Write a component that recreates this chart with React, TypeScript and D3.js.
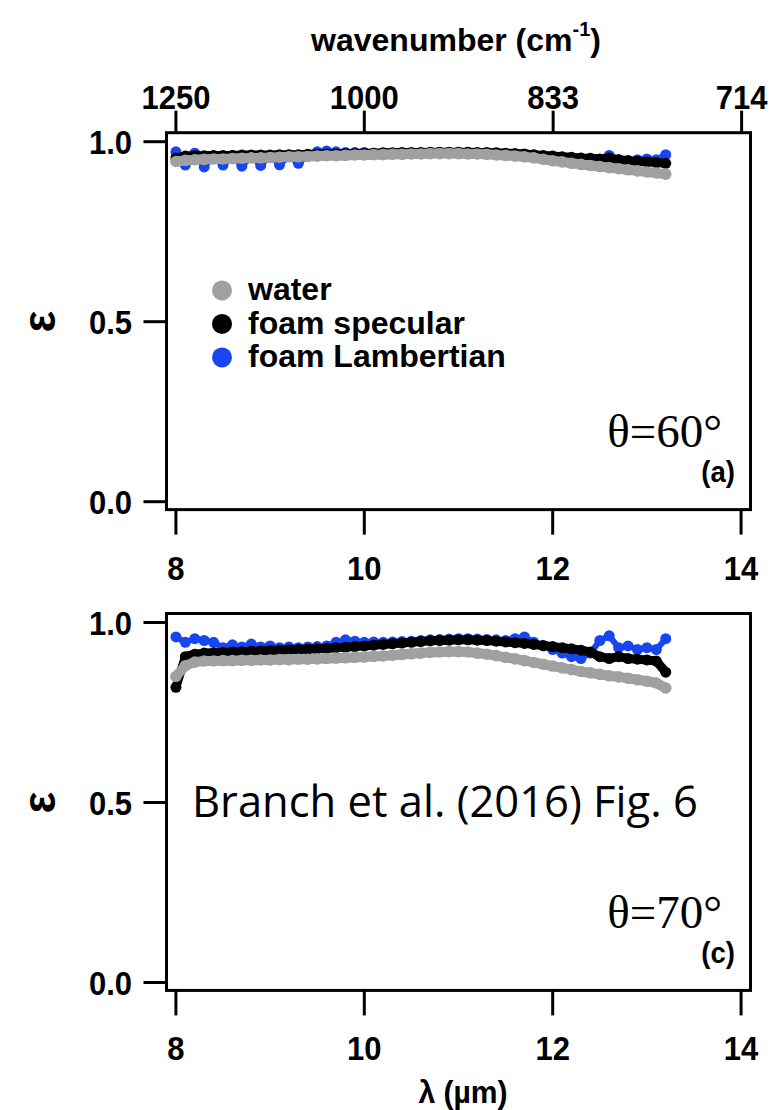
import React from 'react';
import * as d3 from 'd3';

// wavelength grid (µm), shared by every series
const lambdaUm = [
  8.0, 8.1, 8.2, 8.3, 8.4, 8.5, 8.6, 8.7, 8.8, 8.9,
  9.0, 9.1, 9.2, 9.3, 9.4, 9.5, 9.6, 9.7, 9.8, 9.9,
  10.0, 10.1, 10.2, 10.3, 10.4, 10.5, 10.6, 10.7, 10.8, 10.9,
  11.0, 11.1, 11.2, 11.3, 11.4, 11.5, 11.6, 11.7, 11.8, 11.9,
  12.0, 12.1, 12.2, 12.3, 12.4, 12.5, 12.6, 12.7, 12.8, 12.9,
  13.0, 13.1, 13.2,
];

// panel (a), theta = 60
const waterA = [
  0.945, 0.948, 0.95, 0.951, 0.952, 0.952, 0.953, 0.954, 0.955, 0.955,
  0.956, 0.957, 0.958, 0.958, 0.959, 0.96, 0.961, 0.961, 0.962, 0.963,
  0.963, 0.964, 0.964, 0.965, 0.965, 0.966, 0.966, 0.967, 0.967, 0.967,
  0.967, 0.966, 0.966, 0.965, 0.963, 0.962, 0.96, 0.958, 0.955, 0.951,
  0.947, 0.944, 0.94, 0.937, 0.934, 0.931, 0.928, 0.925, 0.922, 0.919,
  0.916, 0.913, 0.91,
];
const specularA = [
  0.955, 0.96, 0.961, 0.961, 0.962, 0.962, 0.962, 0.963, 0.963, 0.963,
  0.963, 0.964, 0.964, 0.964, 0.965, 0.965, 0.966, 0.966, 0.967, 0.967,
  0.968, 0.968, 0.969, 0.969, 0.97, 0.97, 0.97, 0.971, 0.971, 0.971,
  0.971, 0.971, 0.97, 0.97, 0.969, 0.968, 0.967, 0.966, 0.964, 0.962,
  0.96, 0.958, 0.957, 0.955, 0.954, 0.952, 0.955, 0.95, 0.947, 0.946,
  0.944, 0.942, 0.94,
];
const lambertA = [
  0.972, 0.935, 0.968, 0.93, 0.96, 0.935, 0.962, 0.932, 0.96, 0.934,
  0.962, 0.936, 0.96, 0.94, 0.962, 0.972, 0.974, 0.972, 0.97, 0.97,
  0.97, 0.968, 0.968, 0.968, 0.968, 0.968, 0.969, 0.969, 0.97, 0.97,
  0.97, 0.97, 0.969, 0.968, 0.967, 0.966, 0.964, 0.963, 0.961, 0.96,
  0.958, 0.955, 0.952, 0.95, 0.948, 0.95, 0.962, 0.95, 0.948, 0.95,
  0.952, 0.95, 0.964,
];

// panel (c), theta = 70
const waterC = [
  0.85, 0.88, 0.89, 0.893, 0.893, 0.894, 0.894, 0.895, 0.895, 0.896,
  0.896, 0.897, 0.897, 0.898, 0.898, 0.899, 0.9, 0.901, 0.902, 0.903,
  0.904, 0.906, 0.907, 0.909, 0.911, 0.913, 0.915, 0.917, 0.918, 0.919,
  0.919, 0.918, 0.915, 0.912, 0.908, 0.903, 0.899, 0.894, 0.889, 0.884,
  0.879, 0.874, 0.869, 0.864, 0.86, 0.856, 0.852, 0.849, 0.845, 0.841,
  0.837, 0.832, 0.818,
];
const specularC = [
  0.82, 0.905, 0.912, 0.915, 0.916, 0.917, 0.918, 0.919, 0.92, 0.921,
  0.922, 0.923, 0.924, 0.925, 0.926, 0.927, 0.928, 0.93, 0.931, 0.933,
  0.935, 0.937, 0.939, 0.941, 0.943, 0.945, 0.947, 0.949, 0.95, 0.951,
  0.952, 0.952, 0.951, 0.95, 0.948, 0.946, 0.944, 0.942, 0.939, 0.936,
  0.933, 0.93, 0.927, 0.923, 0.918, 0.905, 0.9, 0.905, 0.9, 0.898,
  0.896, 0.893, 0.862,
];
const lambertC = [
  0.96, 0.945, 0.955, 0.95, 0.945, 0.93, 0.938, 0.932, 0.94, 0.932,
  0.935, 0.93, 0.932, 0.93, 0.932, 0.933, 0.935, 0.945, 0.952, 0.948,
  0.945, 0.946, 0.945, 0.946, 0.947, 0.948, 0.95, 0.952, 0.953, 0.954,
  0.955, 0.955, 0.954, 0.953, 0.952, 0.95, 0.955, 0.96, 0.945, 0.935,
  0.925, 0.915, 0.905, 0.9, 0.915, 0.95, 0.963, 0.93, 0.935, 0.925,
  0.93, 0.925, 0.955,
];

const xTicks = [8, 10, 12, 14];
const yTicks = [0, 0.5, 1];
const yTickLabels = ['0.0', '0.5', '1.0'];
const waveTicks = [1250, 1000, 833, 714];
const seriesNames = ['water', 'foam specular', 'foam Lambertian'];
const seriesColors = ['#a0a0a0', '#000000', '#1746f0'];

const sansFont = "'Liberation Sans', Arial, sans-serif";

const x = d3.scaleLinear().domain([7.9, 14.1]).range([166.5, 750.5]);

// slightly condensed bold label, like the Igor tick labels
function Narrow({ x: tx, y: ty, anchor = 'middle', size = 33, sx = 0.94, children }:
  { x: number; y: number; anchor?: string; size?: number; sx?: number; children: React.ReactNode }) {
  return (
    <text transform={`translate(${tx},${ty}) scale(${sx},1)`} textAnchor={anchor}
      fontFamily={sansFont} fontWeight="bold" fontSize={size}>{children}</text>
  );
}

type PanelProps = {
  y0: number; // pixel of eps = 0
  water: number[];
  specular: number[];
  lambert: number[];
  theta: string;
  tag: string;
  topAxis?: boolean;
  legend?: boolean;
};

function Panel({ y0, water, specular, lambert, theta, tag, topAxis, legend }: PanelProps) {
  const y = d3.scaleLinear().domain([0, 1]).range([y0, y0 - 360]);
  const top = y(1.025);
  const bottom = y(-0.022);
  const left = x.range()[0];
  const right = x.range()[1];
  const line = d3.line<number>().x((_, i) => x(lambdaUm[i])).y((v) => y(v)).curve(d3.curveLinear);
  // drawing order: blue under black under gray
  const drawOrder = [
    { vals: lambert, color: seriesColors[2], w: 6, r: 5.5 },
    { vals: specular, color: seriesColors[1], w: 9, r: 5.5 },
    { vals: water, color: seriesColors[0], w: 10, r: 5.8 },
  ];
  return (
    <g>
      {drawOrder.map((s, si) => (
        <g key={si} fill={s.color}>
          <path d={line(s.vals) || ''} fill="none" stroke={s.color} strokeWidth={s.w}
            strokeLinejoin="round" strokeLinecap="round" />
          {s.vals.map((v, i) => (
            <circle key={i} cx={x(lambdaUm[i])} cy={y(v)} r={s.r} />
          ))}
        </g>
      ))}
      <rect x={left} y={top} width={right - left} height={bottom - top}
        fill="none" stroke="#000" strokeWidth={3} />

      {/* left axis */}
      {yTicks.map((t, i) => (
        <g key={t}>
          <line x1={left - 23} x2={left} y1={y(t)} y2={y(t)} stroke="#000" strokeWidth={3} />
          <Narrow x={132} y={y(t) + 12} anchor="end">{yTickLabels[i]}</Narrow>
        </g>
      ))}
      <text transform={`translate(55,${y(0.5)}) rotate(-90)`} textAnchor="middle"
        fontFamily={sansFont} fontWeight="bold" fontSize={46}>ε</text>

      {/* bottom axis */}
      {xTicks.map((t) => (
        <g key={t}>
          <line x1={x(t)} x2={x(t)} y1={bottom} y2={bottom + 25} stroke="#000" strokeWidth={3} />
          <Narrow x={x(t)} y={bottom + 70}>{t}</Narrow>
        </g>
      ))}

      {topAxis && (
        <g>
          {waveTicks.map((w) => (
            <g key={w}>
              <line x1={x(10000 / w)} x2={x(10000 / w)} y1={top} y2={top - 22}
                stroke="#000" strokeWidth={3} />
              <Narrow x={x(10000 / w)} y={top - 24}>{w}</Narrow>
            </g>
          ))}
          <Narrow x={456} y={51} size={32} sx={1}>
            wavenumber (cm<tspan dy={-15} fontSize={20}>-1</tspan><tspan dy={15}>)</tspan>
          </Narrow>
        </g>
      )}

      {legend && seriesNames.map((name, i) => (
        <g key={name}>
          <circle cx={222} cy={y(0.587) + i * 33.5} r={10} fill={seriesColors[i]} />
          <text x={248} y={y(0.587) + i * 33.5 + 10} fontFamily={sansFont}
            fontWeight="bold" fontSize={32}>{name}</text>
        </g>
      ))}

      <text x={722} y={y(0.18) + 10} textAnchor="end" fontFamily="'Liberation Serif', 'Times New Roman', serif"
        fontSize={47}>{theta}</text>
      <Narrow x={735} y={y(0) - 20} anchor="end" size={29} sx={0.95}>{tag}</Narrow>
    </g>
  );
}

export default function App() {
  return (
    <svg width={770} height={1110} style={{ position: 'absolute', left: 0, top: 0, background: '#fff' }}>
      <Panel y0={501.7} water={waterA} specular={specularA} lambert={lambertA}
        theta="θ=60°" tag="(a)" topAxis legend />
      <Panel y0={982.5} water={waterC} specular={specularC} lambert={lambertC}
        theta="θ=70°" tag="(c)" />
      <text x={192} y={817} fontFamily="'Open Sans', 'Noto Sans', sans-serif" fontSize={43.5}>
        Branch et al. (2016) Fig. 6
      </text>
      <Narrow x={463} y={1103} size={32}>λ (µm)</Narrow>
    </svg>
  );
}
